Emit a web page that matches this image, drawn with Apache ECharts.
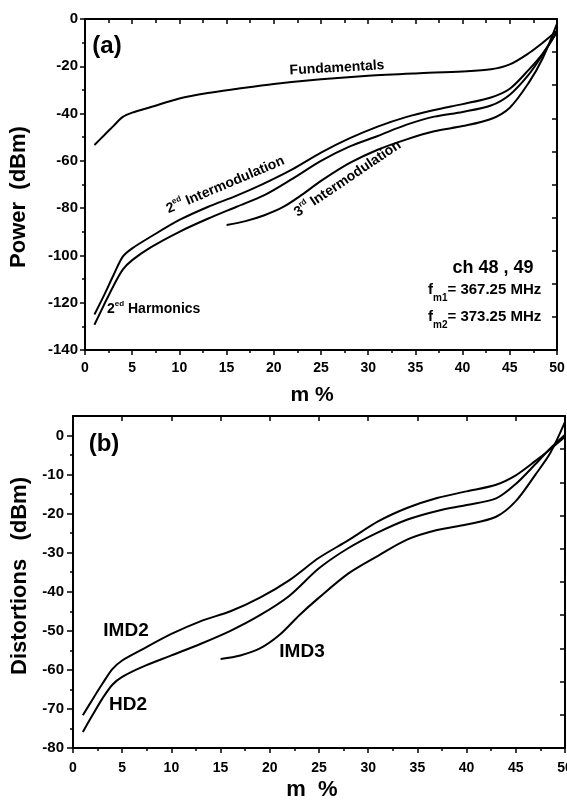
<!DOCTYPE html>
<html><head><meta charset="utf-8">
<script src="https://cdn.jsdelivr.net/npm/echarts@6/dist/echarts.min.js"></script>
<style>html,body{margin:0;padding:0;background:#fff}#c{width:567px;height:804px}</style>
</head><body><div id="c"></div>
<script>
// ---------- Panel (a) data: Power (dBm) vs m % ----------
const fundX  = [1,2,3,4,5,7,10,13,16,20,25,30,35,40,43,45,47,48.5,50];
const fundY  = [-53.3,-49.3,-45.3,-41.4,-39.6,-37.2,-33.6,-31.3,-29.6,-27.5,-25.5,-24,-23,-22.2,-21.3,-19.2,-14.5,-10,-5];
const imd2aX = [1,2,3,4,5,7,10,13,16,19,22,25,28,31,34,37,40,43,45,47,48.5,50];
const imd2aY = [-125,-117,-108.5,-100.5,-97,-92,-85,-79.5,-74.8,-69.5,-63.5,-56.5,-50.5,-45.5,-41.5,-38.5,-36,-33.2,-29.5,-21.5,-14.5,-5.3];
const hd2aX  = [1,2,3,4,5,7,10,13,16,19,22,25,28,31,34,37,40,43,45,47,48.5,50];
const hd2aY  = [-129.3,-121,-113,-106,-102,-96.5,-90,-84.5,-79.5,-74.5,-67.5,-60,-54,-49.5,-44.8,-41.3,-39.3,-36.6,-32,-23.5,-15,-5.5];
const imd3aX = [15,17,19,21,23,25,28,31,34,37,40,43,45,47,48.5,50];
const imd3aY = [-87.1,-85.5,-83,-79.5,-74.3,-68.5,-61,-55.3,-51,-47.5,-45.3,-42.3,-37.5,-27,-16.5,-2];

// ---------- Panel (b) data: Distortions (dBm) vs m % ----------
const imd2bX = [1,2,3,4,5,7,10,13,16,19,22,25,28,31,34,37,40,43,45,47,48.5,50];
const imd2bY = [-71.6,-67.5,-63.5,-59.8,-57.6,-54.8,-50.8,-47.5,-45,-41.5,-37,-31.3,-26.8,-22,-18.5,-16,-14.3,-12.6,-10.2,-6.5,-3.5,-0.3];
const hd2bX  = [1,2,3,4,5,7,10,13,16,19,22,25,28,31,34,37,40,43,45,47,48.5,50];
const hd2bY  = [-75.9,-71.5,-67.3,-63.8,-61.8,-59.3,-56.3,-53.3,-50,-46,-41,-34,-28.8,-24.8,-21.5,-19.3,-17.8,-16.1,-12.4,-7.3,-3.3,0.2];
const imd3bX = [15,17,19,21,23,25,28,31,34,37,40,43,45,47,48.5,50];
const imd3bY = [-57.2,-56.3,-54.5,-51,-46,-41.5,-35.3,-30.8,-26.6,-24.2,-22.8,-20.8,-16.8,-10,-4.5,3.5];

// ---------- tick labels ----------
const xTicks  = [0,5,10,15,20,25,30,35,40,45,50];
const yTicksA = [-140,-120,-100,-80,-60,-40,-20,0];
const yTicksB = [-80,-70,-60,-50,-40,-30,-20,-10,0];
const yMinorB = [-75,-65,-55,-45,-35,-25,-15,-5];

const FF = "'Liberation Sans', Arial, Helvetica, sans-serif";
const pairs = (xs, ys) => xs.map((x, i) => [x, ys[i]]);

const lineW = 2;
const axLine = {show:true, onZero:false, lineStyle:{color:'#000', width:2}};
const lab = (m, fs) => ({show:true, color:'#000', fontFamily:FF, fontWeight:'bold', fontSize:fs || 14, margin:m});

function xBottom(g, m){
  return {type:'value', gridIndex:g, position:'bottom', min:0, max:50, interval:5,
    axisLine:axLine, axisTick:{show:true, inside:false, length:5, lineStyle:{color:'#000', width:1.5}},
    minorTick:{show:true, splitNumber:2, length:3, lineStyle:{color:'#000', width:1.5}},
    axisLabel:Object.assign(lab(m), {customValues:xTicks}), splitLine:{show:false}, minorSplitLine:{show:false}};
}
function xTop(g, minor){
  return {type:'value', gridIndex:g, position:'top', min:0, max:50, interval:5,
    axisLine:axLine, axisTick:{show:true, inside:true, length:5, lineStyle:{color:'#000', width:1.5}},
    minorTick:{show:minor, splitNumber:2, length:4, lineStyle:{color:'#000', width:1.5}},
    axisLabel:{show:false}, splitLine:{show:false}};
}
function yRight(g){
  return {type:'value', gridIndex:g, position:'right', min:0, max:10, interval:1,
    axisLine:axLine, axisTick:{show:true, inside:true, length:5, lineStyle:{color:'#000', width:1.5}},
    axisLabel:{show:false}, splitLine:{show:false}};
}

const ser = (name, xi, yi, xs, ys) => ({
  name, type:'line', xAxisIndex:xi, yAxisIndex:yi, data:pairs(xs, ys),
  showSymbol:false, smooth:0.3, lineStyle:{color:'#000', width:lineW}, silent:true, animation:false, z:3
});

const base = {fontFamily:FF, fontWeight:'bold', fill:'#000'};
function T(x, y, text, size, opts){
  opts = opts || {};
  return {type:'text', x, y, rotation:opts.rot || 0, silent:true, z:10,
    style:Object.assign({}, base, {text, fontSize:size,
      align:opts.align || 'center', textAlign:opts.align || 'center',
      verticalAlign:'middle', textVerticalAlign:'middle'}, opts.rich ? {rich:opts.rich} : {})};
}
const supRich = {
  b:{fontFamily:FF, fontWeight:'bold', fontSize:14, lineHeight:16, verticalAlign:'bottom', fill:'#000', color:'#000'},
  s:{fontFamily:FF, fontWeight:'bold', fontSize:8, lineHeight:9, verticalAlign:'top', fill:'#000', color:'#000'}
};
const subRich = {
  b:{fontFamily:FF, fontWeight:'bold', fontSize:15, lineHeight:16, verticalAlign:'top', fill:'#000', color:'#000'},
  s:{fontFamily:FF, fontWeight:'bold', fontSize:10, lineHeight:32, verticalAlign:'middle', fill:'#000', color:'#000'}
};
const deg = Math.PI/180;

const option = {
  animation:false,
  backgroundColor:'#fff',
  grid:[
    {left:85, top:19, width:472, height:331, containLabel:false, outerBoundsMode:'none'},
    {left:73, top:416, width:492, height:332, containLabel:false, outerBoundsMode:'none'}
  ],
  xAxis:[ xBottom(0, 11), xTop(0, true), xBottom(1, 13), xTop(1, false) ],
  yAxis:[
    {type:'value', gridIndex:0, position:'left', min:-140, max:0, interval:20,
      axisLine:axLine, axisTick:{show:true, inside:false, length:5, lineStyle:{color:'#000', width:1.5}},
      minorTick:{show:true, splitNumber:2, length:3, lineStyle:{color:'#000', width:1.5}},
      axisLabel:Object.assign(lab(7, 15), {customValues:yTicksA}), splitLine:{show:false}},
    yRight(0),
    {type:'value', gridIndex:1, position:'left', min:-80, max:5,
      axisLine:axLine,
      axisTick:{show:true, inside:false, length:6, customValues:yTicksB, lineStyle:{color:'#000', width:1.5}},
      axisLabel:Object.assign(lab(9, 15), {customValues:yTicksB}), splitLine:{show:false}},
    {type:'value', gridIndex:1, position:'left', min:-80, max:5,
      axisLine:{show:false},
      axisTick:{show:true, inside:false, length:3, customValues:yMinorB, lineStyle:{color:'#000', width:1.5}},
      axisLabel:{show:false}, splitLine:{show:false}},
    yRight(1)
  ],
  series:[
    ser('Fundamentals', 0, 0, fundX, fundY),
    ser('2ed Intermodulation', 0, 0, imd2aX, imd2aY),
    ser('2ed Harmonics', 0, 0, hd2aX, hd2aY),
    ser('3rd Intermodulation', 0, 0, imd3aX, imd3aY),
    ser('IMD2', 2, 2, imd2bX, imd2bY),
    ser('HD2', 2, 2, hd2bX, hd2bY),
    ser('IMD3', 2, 2, imd3bX, imd3bY)
  ],
  graphic:[
    T(107, 46, '(a)', 24),
    T(337, 68, 'Fundamentals', 14, {rot:3.3*deg}),
    T(225, 184, '{b|2}{s|ed}{b| Intermodulation}', 14, {rot:23*deg, rich:supRich}),
    T(347, 178, '{b|3}{s|rd}{b| Intermodulation}', 14, {rot:34*deg, rich:supRich}),
    T(107, 308, '{b|2}{s|ed}{b| Harmonics}', 14, {align:'left', rich:supRich}),
    T(493, 268, 'ch 48 , 49', 18),
    T(428, 298, '{b|f}{s|m1}{b|= 367.25 MHz}', 15, {align:'left', rich:subRich}),
    T(428, 325, '{b|f}{s|m2}{b|= 373.25 MHz}', 15, {align:'left', rich:subRich}),
    T(19, 197, 'Power  (dBm)', 22, {rot:90*deg}),
    T(312, 395, 'm %', 21),
    T(104, 444, '(b)', 24),
    T(126, 631, 'IMD2', 19),
    T(128, 705, 'HD2', 19),
    T(302, 652, 'IMD3', 19),
    T(20, 576, 'Distortions   (dBm)', 22, {rot:90*deg}),
    T(312, 790, 'm  %', 22)
  ]
};
const chart = echarts.init(document.getElementById('c'), null, {renderer:'canvas'});
chart.setOption(option);
</script>
</body></html>
